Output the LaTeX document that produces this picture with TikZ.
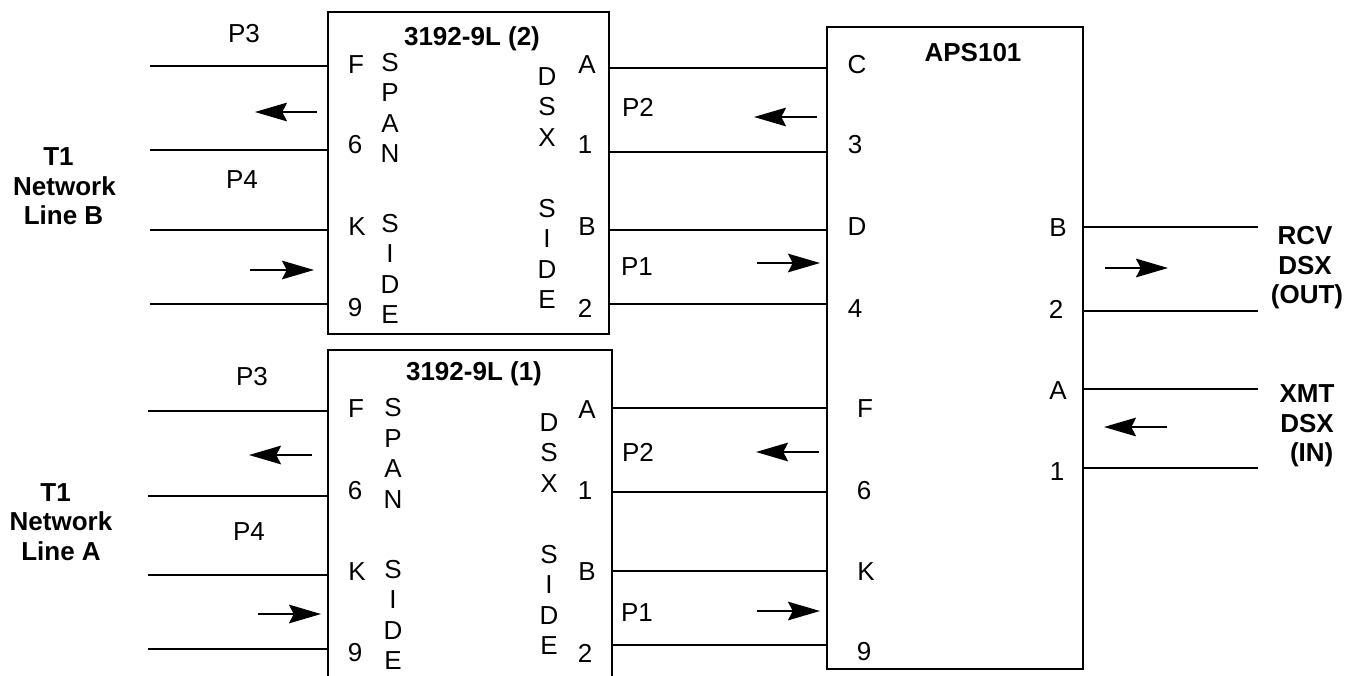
\documentclass[tikz,border=0pt]{standalone}
\usepackage{fontspec}
\setmainfont{Liberation Sans}
\usetikzlibrary{arrows.meta}
\tikzset{
  x=0.75pt,y=-0.75pt,
  every node/.style={inner sep=0pt,outer sep=0pt},
  lab/.style={font=\fontsize{19.5}{22.9}\selectfont},
  vword/.style={lab,align=center},
  ttl/.style={font=\fontsize{19.5}{22.2}\selectfont\bfseries,align=center},
  blockbox/.style={draw=black,line width=1.5pt,anchor=north west},
  wire/.style={draw=black,line width=1.5pt},
  flow/.style={draw=black,line width=1.1pt,-{Stealth[length=24pt,width=14pt,inset=3.5pt]}}
}
\begin{document}
\begin{tikzpicture}
\useasboundingbox (0,0) rectangle (1356,675);
\clip (0,0) rectangle (1356,675);
% boxes
\node[blockbox,minimum width=211pt,minimum height=241.5pt] (boxb) at (328,12) {};
\node[blockbox,minimum width=213pt,minimum height=300pt] (boxa) at (328,350) {};
\node[blockbox,minimum width=192pt,minimum height=481.5pt] (aps) at (827,27) {};
% free ends
\foreach \n/\y in {bf/66,bs/150,bk/230,bn/304}{\coordinate (\n) at (150,\y);}
\foreach \n/\y in {af/411,as/496,ak/575,an/649}{\coordinate (\n) at (148,\y);}
\foreach \n/\y in {oa/227,ob/311,oc/389,od/468}{\coordinate (\n) at (1258,\y);}
\foreach \n in {bf,bs,bk,bn}{\draw[wire] (\n) -- (\n -| boxb.west);}
\foreach \n in {af,as,ak,an}{\draw[wire] (\n) -- (\n -| boxa.west);}
\foreach \n in {oa,ob,oc,od}{\draw[wire] (\n) -- (\n -| aps.east);}
% links
\foreach \n/\y in {l1/68,l2/152,l3/230,l4/304}{\coordinate (\n) at (700,\y);\draw[wire] (\n -| boxb.east) -- (\n -| aps.west);}
\foreach \n/\y in {m1/408,m2/492,m3/571,m4/645}{\coordinate (\n) at (700,\y);\draw[wire] (\n -| boxa.east) -- (\n -| aps.west);}
% arrows
\coordinate (a1s) at (317,112); \coordinate (a1e) at (255,112);
\coordinate (a2s) at (250,270); \coordinate (a2e) at (314,270);
\coordinate (a3s) at (312,455); \coordinate (a3e) at (249,455);
\coordinate (a4s) at (258,614); \coordinate (a4e) at (321,614);
\coordinate (a5s) at (817,117); \coordinate (a5e) at (754,117);
\coordinate (a6s) at (757,263); \coordinate (a6e) at (820,263);
\coordinate (a7s) at (819,452); \coordinate (a7e) at (756,452);
\coordinate (a8s) at (757,611); \coordinate (a8e) at (820,611);
\coordinate (a9s) at (1105,268); \coordinate (a9e) at (1168,268);
\coordinate (a10s) at (1167,427); \coordinate (a10e) at (1104,427);
\foreach \i in {1,...,10}{\draw[flow] (a\i s) -- (a\i e);}
% titles
\node[ttl] (tb) at (472,39) {3192-9L (2)};
\node[ttl] (ta) at (474,374) {3192-9L (1)};
\node[ttl] (tc) at (973,53) {APS101};
% box 2 labels
\node[lab] (p3b) at (244,34) {P3};
\node[lab] (p4b) at (242,180) {P4};
\node[lab] (bF) at (356,65) {F};
\node[lab] (b6) at (355,145) {6};
\node[lab] (bK) at (357,227) {K};
\node[lab] (b9) at (355,308) {9};
\node[vword] (bsp) at (390,108) {S\\P\\A\\N};
\node[vword] (bsi) at (390,269) {S\\I\\D\\E};
\node[vword] (bdx) at (547,107) {D\\S\\X};
\node[vword] (bsr) at (547,254) {S\\I\\D\\E};
\node[lab] (bA) at (587,65) {A};
\node[lab] (b1) at (585,145) {1};
\node[lab] (bB) at (587,227) {B};
\node[lab] (b2) at (585,308) {2};
% box 1 labels
\node[lab] (p3a) at (252,377) {P3};
\node[lab] (p4a) at (249,532) {P4};
\node[lab] (aF) at (356,409) {F};
\node[lab] (a6) at (355,491) {6};
\node[lab] (aK) at (357,572) {K};
\node[lab] (a9) at (355,653) {9};
\node[vword] (asp) at (393,453.5) {S\\P\\A\\N};
\node[vword] (asi) at (393,615) {S\\I\\D\\E};
\node[vword] (adx) at (549,453) {D\\S\\X};
\node[vword] (asr) at (549,600) {S\\I\\D\\E};
\node[lab] (aA) at (587,410) {A};
\node[lab] (a1) at (585,491) {1};
\node[lab] (aB) at (587,572) {B};
\node[lab] (a2) at (585,653) {2};
% P1 P2
\node[lab] (p2u) at (638,107) {P2};
\node[lab] (p1u) at (637,267) {P1};
\node[lab] (p2l) at (638,452) {P2};
\node[lab] (p1l) at (637,613) {P1};
% APS labels
\node[lab] (cC) at (857,65) {C};
\node[lab] (c3) at (855,145) {3};
\node[lab] (cD) at (857,227) {D};
\node[lab] (c4) at (855,309) {4};
\node[lab] (cF) at (865,409) {F};
\node[lab] (c6) at (864,491) {6};
\node[lab] (cK) at (866,572) {K};
\node[lab] (c9) at (864,652) {9};
\node[lab] (cB) at (1058,228) {B};
\node[lab] (c2) at (1056,309) {2};
\node[lab] (cA) at (1058,391) {A};
\node[lab] (c1) at (1057,472) {1};
% outer titles
\node[ttl] (rcv) at (1305,268) {RCV\\DSX\\\hspace*{3pt}(OUT)};
\node[ttl] (xmt) at (1307,426) {XMT\\DSX\\\hspace*{7pt}(IN)};
\node[ttl] (lb) at (64.5,186.5) {T1\hspace*{9pt}\\Network\\Line B\hspace*{1.5pt}};
\node[ttl] (la) at (61,522) {T1\hspace*{8pt}\\Network\\Line A};
\end{tikzpicture}
\end{document}
